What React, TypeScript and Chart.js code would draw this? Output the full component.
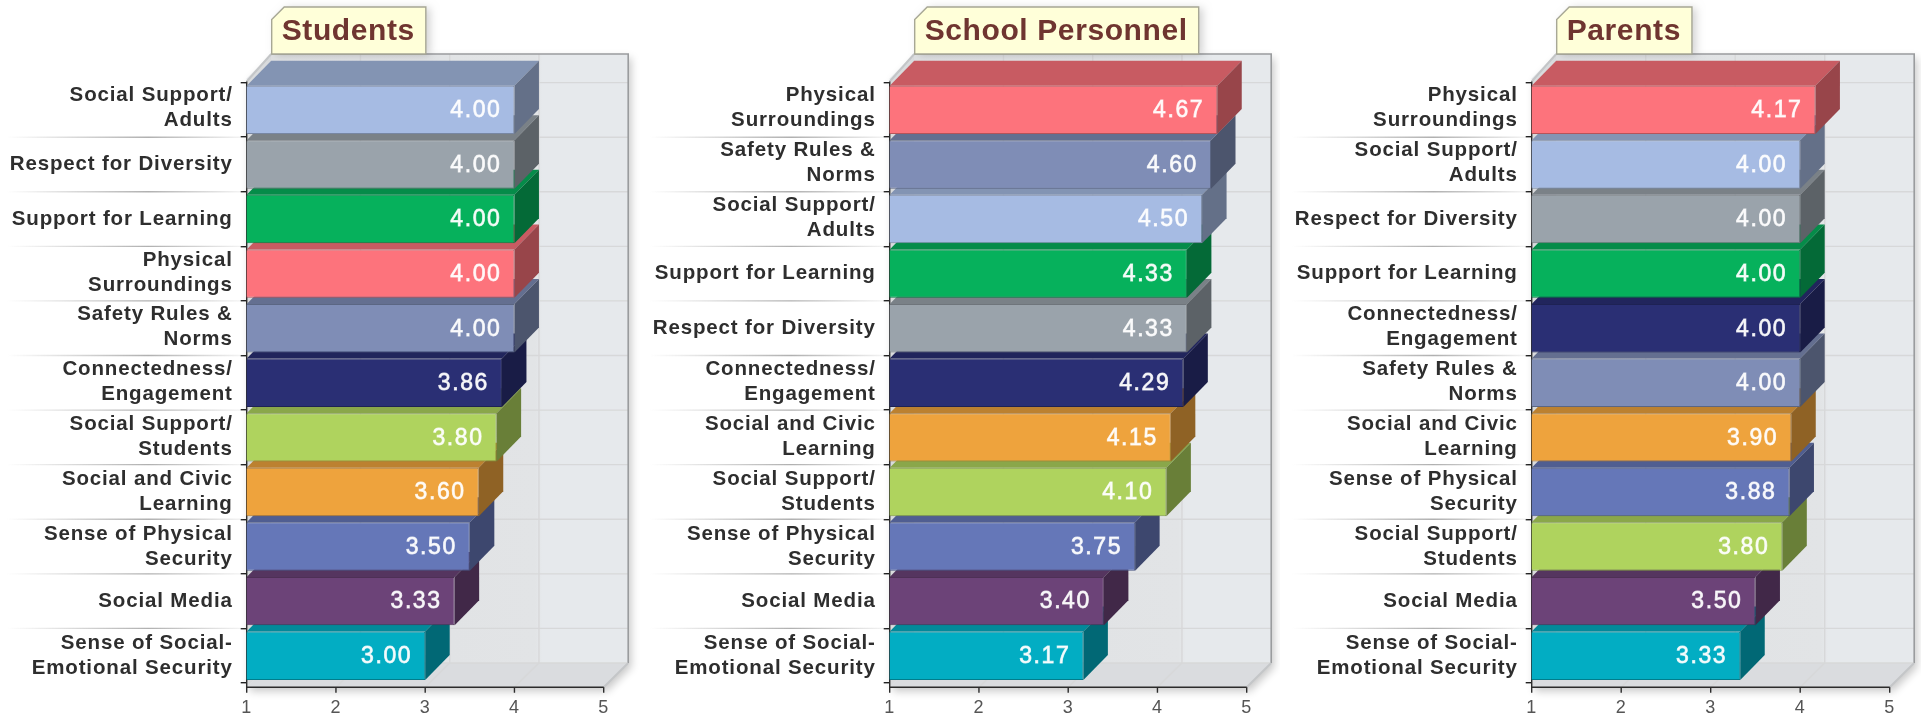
import React, { useEffect, useRef } from "react";
import { Chart, registerables } from "chart.js";

Chart.register(...registerables);

const FAMILY = '"Liberation Sans", Arial, sans-serif';

const SSA = ["Social Support/", "Adults"];
const RFD = "Respect for Diversity";
const SFL = "Support for Learning";
const PHS = ["Physical", "Surroundings"];
const SRN = ["Safety Rules &", "Norms"];
const CNE = ["Connectedness/", "Engagement"];
const SSS = ["Social Support/", "Students"];
const SCL = ["Social and Civic", "Learning"];
const SPS = ["Sense of Physical", "Security"];
const SMD = "Social Media";
const SES = ["Sense of Social-", "Emotional Security"];

const colorKeys = [SSA, RFD, SFL, PHS, SRN, CNE, SSS, SCL, SPS, SMD, SES];
const colorValues = ["#a6bbe3", "#9aa3ab", "#06b15c", "#fd737c", "#7f8db6", "#2a2f74", "#afd35e", "#eea33d", "#6577b8", "#6c4378", "#02adc3"];

const studentCategories = [SSA, RFD, SFL, PHS, SRN, CNE, SSS, SCL, SPS, SMD, SES];
const studentValues = [4.0, 4.0, 4.0, 4.0, 4.0, 3.86, 3.8, 3.6, 3.5, 3.33, 3.0];

const personnelCategories = [PHS, SRN, SSA, SFL, RFD, CNE, SCL, SSS, SPS, SMD, SES];
const personnelValues = [4.67, 4.6, 4.5, 4.33, 4.33, 4.29, 4.15, 4.1, 3.75, 3.4, 3.17];

const parentCategories = [PHS, SSA, RFD, SFL, CNE, SRN, SCL, SPS, SSS, SMD, SES];
const parentValues = [4.17, 4.0, 4.0, 4.0, 4.0, 4.0, 3.9, 3.88, 3.8, 3.5, 3.33];

const TOP = 82.6;
const BOTTOM = 684.9;
const AXIS_Y = 687.3;
const WALL_TOP = 54;
const FLOOR_BACK = 663;
const DEPTH = 24.5;
const CANVAS_W = 640;

function shade(hex: string, f: number) {
  const n = parseInt(hex.slice(1), 16);
  const r = Math.round(((n >> 16) & 255) * f);
  const g = Math.round(((n >> 8) & 255) * f);
  const b = Math.round((n & 255) * f);
  return `rgb(${r},${g},${b})`;
}

function poly(ctx: CanvasRenderingContext2D, pts: number[][]) {
  ctx.beginPath();
  pts.forEach((p, i) => (i ? ctx.lineTo(p[0], p[1]) : ctx.moveTo(p[0], p[1])));
  ctx.closePath();
}

function scenePlugin(title: string, values: number[], colors: string[]) {
  let shifted = false;
  return {
    id: "scene",
    beforeDraw(chart: any) {
      chart.ctx.letterSpacing = "0.85px";
      if (!shifted) {
        shifted = true;
        // two-line category labels drift slightly above their tick towards the top in the reference
        chart.scales.y.getLabelItems().forEach((item: any, i: number) => {
          if (Array.isArray(item.label)) item.options.translation[1] += 0.4 - 2.2 * (1 - i / 10);
        });
      }
    },
    beforeDatasetsDraw(chart: any) {
      const ctx: CanvasRenderingContext2D = chart.ctx;
      const xs = chart.scales.x;
      const ys = chart.scales.y;
      const x1 = xs.getPixelForValue(1);
      const x5 = xs.getPixelForValue(5);
      const band = (ys.bottom - ys.top) / values.length;
      ctx.save();
      ctx.letterSpacing = "0px";

      // outer shadow of the box
      ctx.save();
      ctx.shadowColor = "rgba(0,0,0,0.22)";
      ctx.shadowBlur = 9;
      ctx.shadowOffsetX = 3;
      ctx.shadowOffsetY = 4;
      ctx.fillStyle = "#e4e6e9";
      poly(ctx, [[x1 + DEPTH, WALL_TOP], [x5 + DEPTH, WALL_TOP], [x5 + DEPTH, FLOOR_BACK], [x5, AXIS_Y], [x1, AXIS_Y], [x1, WALL_TOP + DEPTH]]);
      ctx.fill();
      ctx.restore();

      // back wall
      const wall = ctx.createLinearGradient(x1 + DEPTH, 0, x5 + DEPTH, 0);
      wall.addColorStop(0, "#dfe1e3");
      wall.addColorStop(0.74, "#e2e4e6");
      wall.addColorStop(0.76, "#e6e9ec");
      wall.addColorStop(1, "#e6e9ec");
      ctx.fillStyle = wall;
      ctx.fillRect(x1 + DEPTH, WALL_TOP, x5 - x1, FLOOR_BACK - WALL_TOP);

      // left wall
      ctx.fillStyle = "#d9dbdd";
      poly(ctx, [[x1, WALL_TOP + DEPTH + 3], [x1 + DEPTH, WALL_TOP], [x1 + DEPTH, FLOOR_BACK], [x1, AXIS_Y]]);
      ctx.fill();

      // floor
      ctx.fillStyle = "#dadcdf";
      poly(ctx, [[x1 + DEPTH, FLOOR_BACK], [x5 + DEPTH, FLOOR_BACK], [x5, AXIS_Y], [x1, AXIS_Y]]);
      ctx.fill();

      // wall grid
      ctx.strokeStyle = "#d7d8d9";
      ctx.lineWidth = 1.4;
      for (let k = 0; k < values.length; k++) {
        const y = ys.top + band * k;
        ctx.beginPath();
        ctx.moveTo(x1 + DEPTH, y);
        ctx.lineTo(x5 + DEPTH, y);
        ctx.stroke();
      }
      ctx.beginPath();
      ctx.moveTo(x1 + DEPTH, FLOOR_BACK);
      ctx.lineTo(x5 + DEPTH, FLOOR_BACK);
      ctx.stroke();
      for (const v of [2, 3, 4]) {
        const x = xs.getPixelForValue(v);
        ctx.beginPath();
        ctx.moveTo(x + DEPTH, WALL_TOP);
        ctx.lineTo(x + DEPTH, FLOOR_BACK);
        ctx.lineTo(x, AXIS_Y);
        ctx.stroke();
      }

      // frame
      ctx.strokeStyle = "#9a9c9e";
      ctx.lineWidth = 1.6;
      ctx.beginPath();
      ctx.moveTo(x1 + DEPTH, WALL_TOP);
      ctx.lineTo(x5 + DEPTH, WALL_TOP);
      ctx.lineTo(x5 + DEPTH, FLOOR_BACK);
      ctx.stroke();
      ctx.strokeStyle = "#c4c6c8";
      ctx.lineWidth = 2;
      ctx.beginPath();
      ctx.moveTo(x5 + DEPTH, FLOOR_BACK);
      ctx.lineTo(x5, AXIS_Y);
      ctx.moveTo(x1, WALL_TOP + DEPTH + 3);
      ctx.lineTo(x1 + DEPTH, WALL_TOP);
      ctx.stroke();

      // category separators
      for (let k = 1; k < values.length; k++) {
        const y = ys.top + band * k;
        const g = ctx.createLinearGradient(x1 - 240, 0, x1 - 4, 0);
        g.addColorStop(0, "rgba(150,150,150,0)");
        g.addColorStop(0.6, "rgba(150,150,150,0.75)");
        g.addColorStop(1, "rgba(150,150,150,0.1)");
        ctx.strokeStyle = g;
        ctx.lineWidth = 1.4;
        ctx.beginPath();
        ctx.moveTo(x1 - 240, y);
        ctx.lineTo(x1 - 4, y);
        ctx.stroke();
      }

      // axes
      ctx.strokeStyle = "#2b2b2b";
      ctx.lineWidth = 1.4;
      ctx.beginPath();
      ctx.moveTo(x1, WALL_TOP + DEPTH + 3);
      ctx.lineTo(x1, AXIS_Y);
      ctx.moveTo(x1, AXIS_Y);
      ctx.lineTo(x5, AXIS_Y);
      for (const v of [1, 2, 3, 4, 5]) {
        const x = xs.getPixelForValue(v);
        ctx.moveTo(x, AXIS_Y);
        ctx.lineTo(x, AXIS_Y + 5.5);
      }
      ctx.stroke();

      // title tab
      ctx.font = `bold 30px ${FAMILY}`;
      ctx.letterSpacing = "0.6px";
      const tw = ctx.measureText(title).width;
      const L = x1 + DEPTH + 0.5;
      const R = L + tw + 21;
      ctx.save();
      ctx.shadowColor = "rgba(0,0,0,0.18)";
      ctx.shadowBlur = 8;
      ctx.shadowOffsetX = 4;
      ctx.shadowOffsetY = 1;
      ctx.fillStyle = "#ffffd9";
      poly(ctx, [[L, 54], [L, 19.5], [L + 12.5, 7], [R, 7], [R, 54]]);
      ctx.fill();
      ctx.restore();
      ctx.strokeStyle = "#a7a795";
      ctx.lineWidth = 1.4;
      poly(ctx, [[L, 54], [L, 19.5], [L + 12.5, 7], [R, 7], [R, 54]]);
      ctx.stroke();
      ctx.fillStyle = "#6f3530";
      ctx.textAlign = "left";
      ctx.textBaseline = "alphabetic";
      ctx.fillText(title, L + 10, 40);

      // bar depth faces: lower bars first, so the bar above overlaps them
      const meta = chart.getDatasetMeta(0);
      for (let i = values.length - 1; i >= 0; i--) {
        const el = meta.data[i];
        const xe = el.x;
        const top = el.y - el.height / 2;
        const bot = el.y + el.height / 2;
        ctx.fillStyle = shade(colors[i], 0.79);
        poly(ctx, [[x1, top], [x1 + DEPTH, top - DEPTH - 0.5], [xe + DEPTH, top - DEPTH - 0.5], [xe, top]]);
        ctx.fill();
        ctx.fillStyle = shade(colors[i], 0.6);
        poly(ctx, [[xe, top], [xe + DEPTH, top - DEPTH - 0.5], [xe + DEPTH, bot - DEPTH - 0.5], [xe, bot]]);
        ctx.fill();
      }
      ctx.restore();
    },
    afterDatasetsDraw(chart: any) {
      const ctx: CanvasRenderingContext2D = chart.ctx;
      const meta = chart.getDatasetMeta(0);
      ctx.save();
      ctx.font = `23px ${FAMILY}`;
      ctx.letterSpacing = "1.6px";
      ctx.textAlign = "right";
      ctx.textBaseline = "middle";
      ctx.fillStyle = "rgba(255,255,255,0.95)";
      ctx.strokeStyle = "rgba(255,255,255,0.75)";
      ctx.lineWidth = 0.8;
      values.forEach((v, i) => {
        const el = meta.data[i];
        const s = v.toFixed(2);
        ctx.fillText(s, el.x - 13, el.y + 1);
        ctx.strokeText(s, el.x - 13, el.y + 1);
      });
      ctx.restore();
    },
  };
}

function Panel({ title, categories, values, left, x1, }: { title: string; categories: any[]; values: number[]; left: number; x1: number }) {
  const ref = useRef<HTMLCanvasElement | null>(null);
  useEffect(() => {
    const colors = categories.map((c) => colorValues[colorKeys.indexOf(c)]);
    const x1Local = x1 - left;
    const x5Local = x1Local + 357;
    const chart = new Chart(ref.current as HTMLCanvasElement, {
      type: "bar",
      data: {
        labels: categories,
        datasets: [
          {
            data: values,
            backgroundColor: colors,
            borderColor: colors.map((c) => shade(c, 0.72)),
            borderWidth: 1,
            barPercentage: 0.887,
            categoryPercentage: 1,
          },
        ],
      },
      options: {
        indexAxis: "y",
        animation: false,
        responsive: false,
        layout: { padding: { top: TOP, right: CANVAS_W - x5Local, left: 0, bottom: 0 } },
        plugins: { legend: { display: false }, tooltip: { enabled: false } },
        scales: {
          x: {
            type: "linear",
            min: 1,
            max: 5,
            grid: { display: false, drawTicks: false },
            border: { display: false },
            ticks: { stepSize: 1, color: "#555", padding: 14, font: { family: FAMILY, size: 18 } },
            afterFit(scale: any) {
              scale.height = 716 - BOTTOM;
            },
          },
          y: {
            type: "category",
            grid: { drawOnChartArea: false, drawTicks: true, tickLength: 6, color: "#222", lineWidth: 1.4 },
            border: { display: false },
            ticks: {
              autoSkip: false,
              color: "#2e2e2e",
              padding: 8,
              font: { family: FAMILY, size: 20.5, weight: "bold", lineHeight: 1.22 },
            },
            afterFit(scale: any) {
              scale.width = x1Local;
            },
          },
        },
      },
      plugins: [scenePlugin(title, values, colors)],
    } as any);
    return () => chart.destroy();
  }, []);
  return (
    <canvas
      ref={ref}
      width={CANVAS_W + (left === 1280 ? 1 : 0)}
      height={716}
      style={{ position: "absolute", left, top: 0, display: "block", filter: "blur(0.5px)" }}
    />
  );
}

export default function App() {
  useEffect(() => {
    document.body.style.margin = "0";
    document.body.style.background = "#fff";
  }, []);
  return (
    <div style={{ position: "relative", width: 1921, height: 716, overflow: "hidden" }}>
      <Panel title="Students" categories={studentCategories} values={studentValues} left={0} x1={246.7} />
      <Panel title="School Personnel" categories={personnelCategories} values={personnelValues} left={640} x1={889.7} />
      <Panel title="Parents" categories={parentCategories} values={parentValues} left={1280} x1={1531.7} />
    </div>
  );
}
